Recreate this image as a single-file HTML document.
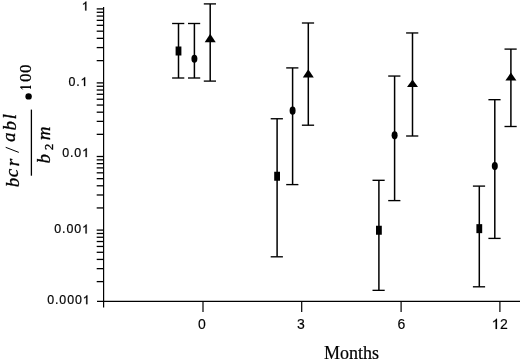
<!DOCTYPE html>
<html><head><meta charset="utf-8"><style>
html,body{margin:0;padding:0;background:#fff;width:520px;height:360px;overflow:hidden}
svg{display:block;will-change:transform}
.ys{font-family:"Liberation Sans",sans-serif;font-size:12.4px;letter-spacing:0.9px;fill:#000;stroke:#000;stroke-width:0.2px}
.xs{font-family:"Liberation Sans",sans-serif;font-size:14.0px;fill:#000;stroke:#000;stroke-width:0.15px}
.mo{font-family:"Liberation Serif",serif;font-size:18px;fill:#000;stroke:#000;stroke-width:0.2px}
.num{font-family:"Liberation Serif",serif;font-style:italic;font-size:19px;fill:#000;stroke:#000;stroke-width:0.3px}
.sub2{font-family:"Liberation Serif",serif;font-size:12.5px;fill:#000;stroke:#000;stroke-width:0.35px}
.hund{font-family:"Liberation Serif",serif;font-size:17px;fill:#000;stroke:#000;stroke-width:0.25px}
</style></head><body>
<svg width="520" height="360" viewBox="0 0 520 360">
<g stroke="#000" stroke-width="1.2" fill="none">
<line x1="103.6" y1="7.0" x2="103.6" y2="307.6" />
<line x1="96.7" y1="8.90" x2="103.6" y2="8.90" stroke-width="1.3"/>
<line x1="96.7" y1="12.29" x2="103.6" y2="12.29" stroke-width="1.3"/>
<line x1="96.7" y1="16.07" x2="103.6" y2="16.07" stroke-width="1.3"/>
<line x1="96.7" y1="20.36" x2="103.6" y2="20.36" stroke-width="1.3"/>
<line x1="96.7" y1="25.32" x2="103.6" y2="25.32" stroke-width="1.3"/>
<line x1="96.7" y1="31.18" x2="103.6" y2="31.18" stroke-width="1.3"/>
<line x1="96.7" y1="38.35" x2="103.6" y2="38.35" stroke-width="1.3"/>
<line x1="96.7" y1="47.59" x2="103.6" y2="47.59" stroke-width="1.3"/>
<line x1="96.7" y1="60.62" x2="103.6" y2="60.62" stroke-width="1.3"/>
<line x1="96.7" y1="82.90" x2="103.6" y2="82.90" stroke-width="1.3"/>
<line x1="96.7" y1="86.27" x2="103.6" y2="86.27" stroke-width="1.3"/>
<line x1="96.7" y1="90.03" x2="103.6" y2="90.03" stroke-width="1.3"/>
<line x1="96.7" y1="94.30" x2="103.6" y2="94.30" stroke-width="1.3"/>
<line x1="96.7" y1="99.23" x2="103.6" y2="99.23" stroke-width="1.3"/>
<line x1="96.7" y1="105.06" x2="103.6" y2="105.06" stroke-width="1.3"/>
<line x1="96.7" y1="112.19" x2="103.6" y2="112.19" stroke-width="1.3"/>
<line x1="96.7" y1="121.38" x2="103.6" y2="121.38" stroke-width="1.3"/>
<line x1="96.7" y1="134.34" x2="103.6" y2="134.34" stroke-width="1.3"/>
<line x1="96.7" y1="156.50" x2="103.6" y2="156.50" stroke-width="1.3"/>
<line x1="96.7" y1="159.87" x2="103.6" y2="159.87" stroke-width="1.3"/>
<line x1="96.7" y1="163.63" x2="103.6" y2="163.63" stroke-width="1.3"/>
<line x1="96.7" y1="167.90" x2="103.6" y2="167.90" stroke-width="1.3"/>
<line x1="96.7" y1="172.83" x2="103.6" y2="172.83" stroke-width="1.3"/>
<line x1="96.7" y1="178.66" x2="103.6" y2="178.66" stroke-width="1.3"/>
<line x1="96.7" y1="185.79" x2="103.6" y2="185.79" stroke-width="1.3"/>
<line x1="96.7" y1="194.98" x2="103.6" y2="194.98" stroke-width="1.3"/>
<line x1="96.7" y1="207.94" x2="103.6" y2="207.94" stroke-width="1.3"/>
<line x1="96.7" y1="230.10" x2="103.6" y2="230.10" stroke-width="1.3"/>
<line x1="96.7" y1="233.47" x2="103.6" y2="233.47" stroke-width="1.3"/>
<line x1="96.7" y1="237.24" x2="103.6" y2="237.24" stroke-width="1.3"/>
<line x1="96.7" y1="241.52" x2="103.6" y2="241.52" stroke-width="1.3"/>
<line x1="96.7" y1="246.45" x2="103.6" y2="246.45" stroke-width="1.3"/>
<line x1="96.7" y1="252.29" x2="103.6" y2="252.29" stroke-width="1.3"/>
<line x1="96.7" y1="259.43" x2="103.6" y2="259.43" stroke-width="1.3"/>
<line x1="96.7" y1="268.64" x2="103.6" y2="268.64" stroke-width="1.3"/>
<line x1="96.7" y1="281.61" x2="103.6" y2="281.61" stroke-width="1.3"/>
<line x1="97.0" y1="301.4" x2="520" y2="301.4" />
<line x1="203" y1="301.4" x2="203" y2="311.9" />
<line x1="301.7" y1="301.4" x2="301.7" y2="311.9" />
<line x1="401.1" y1="301.4" x2="401.1" y2="311.9" />
<line x1="499.9" y1="301.4" x2="499.9" y2="311.9" />
<line x1="178.5" y1="23.5" x2="178.5" y2="78.0" stroke-width="1.5"/>
<line x1="172.10" y1="23.5" x2="184.30" y2="23.5" stroke-width="1.35"/>
<line x1="172.10" y1="78.0" x2="184.30" y2="78.0" stroke-width="1.35"/>
<rect x="175.60" y="46.50" width="5.8" height="9.0" fill="#000" stroke="none"/>
<line x1="194.4" y1="23.5" x2="194.4" y2="78.0" stroke-width="1.5"/>
<line x1="188.00" y1="23.5" x2="200.20" y2="23.5" stroke-width="1.35"/>
<line x1="188.00" y1="78.0" x2="200.20" y2="78.0" stroke-width="1.35"/>
<ellipse cx="194.4" cy="58.75" rx="3.0" ry="4.1" fill="#000" stroke="none"/>
<line x1="210.2" y1="3.9" x2="210.2" y2="81.1" stroke-width="1.5"/>
<line x1="203.80" y1="3.9" x2="216.00" y2="3.9" stroke-width="1.35"/>
<line x1="203.80" y1="81.1" x2="216.00" y2="81.1" stroke-width="1.35"/>
<polygon points="210.2,33.7 204.7,42.2 215.7,42.2" fill="#000" stroke="none"/>
<line x1="277.1" y1="118.75" x2="277.1" y2="256.8" stroke-width="1.5"/>
<line x1="270.70" y1="118.75" x2="282.90" y2="118.75" stroke-width="1.35"/>
<line x1="270.70" y1="256.8" x2="282.90" y2="256.8" stroke-width="1.35"/>
<rect x="274.20" y="171.75" width="5.8" height="9.0" fill="#000" stroke="none"/>
<line x1="292.6" y1="67.9" x2="292.6" y2="184.6" stroke-width="1.5"/>
<line x1="286.20" y1="67.9" x2="298.40" y2="67.9" stroke-width="1.35"/>
<line x1="286.20" y1="184.6" x2="298.40" y2="184.6" stroke-width="1.35"/>
<ellipse cx="292.6" cy="110.7" rx="3.0" ry="4.1" fill="#000" stroke="none"/>
<line x1="308.3" y1="23.0" x2="308.3" y2="125.2" stroke-width="1.5"/>
<line x1="301.90" y1="23.0" x2="314.10" y2="23.0" stroke-width="1.35"/>
<line x1="301.90" y1="125.2" x2="314.10" y2="125.2" stroke-width="1.35"/>
<polygon points="308.3,69.3 302.8,77.6 313.8,77.6" fill="#000" stroke="none"/>
<line x1="378.9" y1="180.3" x2="378.9" y2="290.35" stroke-width="1.5"/>
<line x1="372.50" y1="180.3" x2="384.70" y2="180.3" stroke-width="1.35"/>
<line x1="372.50" y1="290.35" x2="384.70" y2="290.35" stroke-width="1.35"/>
<rect x="376.00" y="225.75" width="5.8" height="9.0" fill="#000" stroke="none"/>
<line x1="394.6" y1="76.05" x2="394.6" y2="200.6" stroke-width="1.5"/>
<line x1="388.20" y1="76.05" x2="400.40" y2="76.05" stroke-width="1.35"/>
<line x1="388.20" y1="200.6" x2="400.40" y2="200.6" stroke-width="1.35"/>
<ellipse cx="394.6" cy="135.35" rx="3.0" ry="4.1" fill="#000" stroke="none"/>
<line x1="412.5" y1="32.96" x2="412.5" y2="136.0" stroke-width="1.5"/>
<line x1="406.10" y1="32.96" x2="418.30" y2="32.96" stroke-width="1.35"/>
<line x1="406.10" y1="136.0" x2="418.30" y2="136.0" stroke-width="1.35"/>
<polygon points="412.5,79.6 407.0,87.0 418.0,87.0" fill="#000" stroke="none"/>
<line x1="479.3" y1="186.1" x2="479.3" y2="286.8" stroke-width="1.5"/>
<line x1="472.90" y1="186.1" x2="485.10" y2="186.1" stroke-width="1.35"/>
<line x1="472.90" y1="286.8" x2="485.10" y2="286.8" stroke-width="1.35"/>
<rect x="476.40" y="224.15" width="5.8" height="9.0" fill="#000" stroke="none"/>
<line x1="494.8" y1="99.7" x2="494.8" y2="238.4" stroke-width="1.5"/>
<line x1="488.40" y1="99.7" x2="500.60" y2="99.7" stroke-width="1.35"/>
<line x1="488.40" y1="238.4" x2="500.60" y2="238.4" stroke-width="1.35"/>
<ellipse cx="494.8" cy="166.1" rx="3.0" ry="4.1" fill="#000" stroke="none"/>
<line x1="510.9" y1="49.1" x2="510.9" y2="126.5" stroke-width="1.5"/>
<line x1="504.50" y1="49.1" x2="516.70" y2="49.1" stroke-width="1.35"/>
<line x1="504.50" y1="126.5" x2="516.70" y2="126.5" stroke-width="1.35"/>
<polygon points="510.9,72.6 505.4,80.5 516.4,80.5" fill="#000" stroke="none"/>
</g>
<path d="M770 0H565V1150Q505 1092 405 1035T215 945V1118Q370 1188 482 1283T645 1475H770Z" transform="translate(81.738,10.500) scale(0.006055,-0.006055)" fill="#000" stroke="#000" stroke-width="33.0"/>
<text x="68.396" y="86.1" class="ys">0.</text>
<path d="M770 0H565V1150Q505 1092 405 1035T215 945V1118Q370 1188 482 1283T645 1475H770Z" transform="translate(80.538,86.100) scale(0.006055,-0.006055)" fill="#000" stroke="#000" stroke-width="33.0"/>
<text x="62.200" y="157.1" class="ys">0.0</text>
<path d="M770 0H565V1150Q505 1092 405 1035T215 945V1118Q370 1188 482 1283T645 1475H770Z" transform="translate(82.138,157.100) scale(0.006055,-0.006055)" fill="#000" stroke="#000" stroke-width="33.0"/>
<text x="54.304" y="233.4" class="ys">0.00</text>
<path d="M770 0H565V1150Q505 1092 405 1035T215 945V1118Q370 1188 482 1283T645 1475H770Z" transform="translate(82.038,233.400) scale(0.006055,-0.006055)" fill="#000" stroke="#000" stroke-width="33.0"/>
<text x="47.208" y="304.2" class="ys">0.000</text>
<path d="M770 0H565V1150Q505 1092 405 1035T215 945V1118Q370 1188 482 1283T645 1475H770Z" transform="translate(82.738,304.200) scale(0.006055,-0.006055)" fill="#000" stroke="#000" stroke-width="33.0"/>
<text x="202.0" y="328.7" text-anchor="middle" class="xs">0</text>
<text x="300.8" y="328.7" text-anchor="middle" class="xs">3</text>
<text x="401.5" y="328.7" text-anchor="middle" class="xs">6</text>
<path d="M770 0H565V1150Q505 1092 405 1035T215 945V1118Q370 1188 482 1283T645 1475H770Z" transform="translate(491.731,328.900) scale(0.006836,-0.006836)" fill="#000" stroke="#000" stroke-width="29.3"/>
<text x="500.117" y="328.9" class="xs">2</text>
<text x="351.5" y="358.8" text-anchor="middle" class="mo">Months</text>
<g transform="translate(0,200) rotate(-90)">
<text x="12.79" y="19.11" class="num">b</text>
<text x="22.84" y="18.31" class="num">c</text>
<text x="33.79" y="18.60" class="num">r</text>
<text x="58.07" y="15.41" class="num">a</text>
<text x="69.44" y="16.11" class="num">b</text>
<text x="80.66" y="15.70" class="num">l</text>
<text x="36.44" y="49.71" class="num">b</text>
<text x="59.85" y="49.70" class="num">m</text>
</g>
<line x1="5.7" y1="147.3" x2="18.8" y2="152.4" stroke="#000" stroke-width="1.0"/>
<g transform="translate(0,200) rotate(-90)"><text x="50.05" y="52.60" class="sub2">2</text>
<line x1="24.3" y1="31.4" x2="90.4" y2="31.4" stroke="#000" stroke-width="1.3"/>
<circle cx="103.6" cy="28.6" r="3.2" fill="#000"/>
<text x="117.95" y="31.45" class="hund">0</text>
<text x="127.10" y="31.45" class="hund">0</text>
</g>
<rect x="20.4" y="86.3" width="10.5" height="1.65" fill="#000"/>
<line x1="20.6" y1="87.2" x2="22.6" y2="89.4" stroke="#000" stroke-width="1.0"/>
<rect x="30.0" y="85.6" width="0.9" height="3.1" fill="#000"/>

</svg>
</body></html>
